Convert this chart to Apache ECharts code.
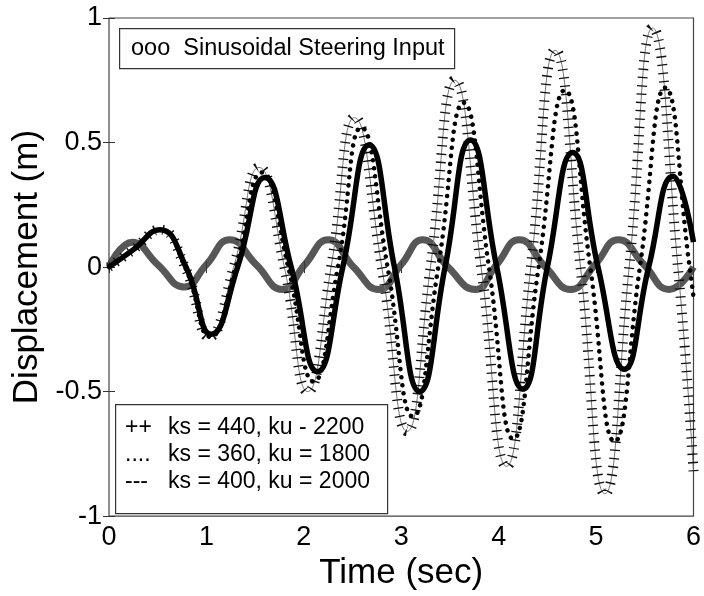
<!DOCTYPE html>
<html><head><meta charset="utf-8">
<script src="https://cdn.jsdelivr.net/npm/echarts@6/dist/echarts.min.js"></script>
<style>html,body{margin:0;padding:0;background:#fff}#c{width:704px;height:596px}</style>
</head><body><div id="c"></div>
<script>
// ---- data ----
const xTicks = [0, 1, 2, 3, 4, 5, 6];
const yTicks = [-1, -0.5, 0, 0.5, 1];

// Sinusoidal steering input ("ooo")
const inputT = [0, 0.24, 0.5, 0.77, 1.0, 1.24, 1.51, 1.78, 2.01, 2.25, 2.51, 2.77, 3.0, 3.22, 3.48, 3.76, 3.98, 4.21, 4.48, 4.74, 4.99, 5.23, 5.49, 5.75, 6.0];
const inputY = [0, 0.10, 0.01, -0.08, 0.01, 0.11, 0.01, -0.09, 0.01, 0.11, 0.0, -0.09, 0.01, 0.11, 0.0, -0.09, 0.01, 0.11, 0.0, -0.09, 0.01, 0.11, 0.01, -0.09, 0.0];

// ++ ks = 440, ku = 2200
const plusT = [0, 0.25, 0.52, 0.78, 1.03, 1.28, 1.54, 1.8, 2.04, 2.28, 2.52, 2.8, 3.06, 3.3, 3.55, 3.82, 4.08, 4.33, 4.58, 4.84, 5.09, 5.34, 5.58, 5.84, 6.0];
const plusY = [0, 0.07, 0.15, 0.0, -0.28, 0.0, 0.40, 0.0, -0.50, 0.0, 0.60, 0.0, -0.66, 0.0, 0.75, 0.0, -0.80, 0.0, 0.87, 0.0, -0.91, 0.0, 0.96, 0.0, -0.82];

// .... ks = 360, ku = 1800
const dotT = [0, 0.25, 0.52, 0.78, 1.04, 1.3, 1.57, 1.84, 2.1, 2.35, 2.59, 2.86, 3.12, 3.38, 3.64, 3.9, 4.15, 4.41, 4.68, 4.94, 5.19, 5.45, 5.71, 5.96, 6.0];
const dotY = [0, 0.07, 0.15, 0.0, -0.28, 0.0, 0.38, 0.0, -0.46, 0.0, 0.56, 0.0, -0.60, 0.0, 0.66, 0.0, -0.69, 0.0, 0.71, 0.0, -0.70, 0.0, 0.72, 0.0, -0.12];

// --- ks = 400, ku = 2000
const solidT = [0, 0.25, 0.52, 0.79, 1.05, 1.32, 1.6, 1.87, 2.14, 2.4, 2.67, 2.93, 3.19, 3.45, 3.71, 3.98, 4.25, 4.5, 4.76, 5.02, 5.29, 5.54, 5.79, 6.0];
const solidY = [0, 0.07, 0.15, 0.0, -0.27, 0.0, 0.36, 0.0, -0.42, 0.0, 0.49, 0.0, -0.50, 0.0, 0.51, 0.0, -0.49, 0.0, 0.46, 0.0, -0.41, 0.0, 0.365, 0.1];

const legendTop = 'ooo  Sinusoidal Steering Input';
const legendMarks = ['++', '....', '---'];
const legendTexts = ['ks = 440, ku - 2200', 'ks = 360, ku = 1800', 'ks = 400, ku = 2000'];

// ---- chart ----
const FONT = '"Liberation Sans", Arial, Helvetica, sans-serif';
const pairs = (T, Y) => T.map((t, i) => [t, Y[i]]);
const chart = echarts.init(document.getElementById('c'), null, {renderer: 'canvas'});

const frameAxis = {
  axisLine: {show: false},
  splitLine: {show: false},
  axisTick: {show: true, inside: true, length: 6, lineStyle: {color: '#333', width: 1}}
};

const legendGraphics = [
  {type: 'rect', left: 119, top: 28, shape: {width: 335, height: 40}, style: {fill: '#fff', stroke: '#333', lineWidth: 1.2}, z: 100},
  {type: 'text', left: 131, top: 37, style: {text: legendTop, font: '23.5px ' + FONT, fill: '#000'}, z: 101},
  {type: 'rect', left: 115, top: 404, shape: {width: 272, height: 109}, style: {fill: '#fff', stroke: '#333', lineWidth: 1.2}, z: 100}
];
legendMarks.forEach((m, i) => {
  legendGraphics.push({type: 'text', left: 125, top: 416 + i * 27, style: {text: m, font: '23px ' + FONT, fill: '#000'}, z: 101});
  legendGraphics.push({type: 'text', left: 168, top: 416 + i * 27, style: {text: legendTexts[i], font: '23px ' + FONT, fill: '#000'}, z: 101});
});

chart.setOption({
  backgroundColor: '#fff',
  animation: false,
  grid: {left: 109, right: 8, top: 18, bottom: 75, show: true, borderColor: '#444', borderWidth: 1.2, backgroundColor: 'transparent'},
  xAxis: [
    Object.assign({type: 'value', min: xTicks[0], max: xTicks[xTicks.length - 1], interval: 1,
      name: 'Time (sec)', nameLocation: 'middle', nameGap: 38,
      nameTextStyle: {fontFamily: FONT, fontSize: 35, color: '#000'},
      axisLabel: {fontFamily: FONT, fontSize: 27, color: '#000', margin: 8}}, frameAxis),
    Object.assign({type: 'value', position: 'top', min: xTicks[0], max: xTicks[xTicks.length - 1], interval: 1,
      axisLabel: {show: false}}, frameAxis)
  ],
  yAxis: [
    Object.assign({type: 'value', min: yTicks[0], max: yTicks[yTicks.length - 1], interval: 0.5,
      name: 'Displacement (m)', nameLocation: 'middle', nameGap: 54,
      nameTextStyle: {fontFamily: FONT, fontSize: 35, color: '#000'},
      axisLabel: {fontFamily: FONT, fontSize: 27, color: '#000', margin: 7}}, frameAxis),
    Object.assign({type: 'value', position: 'right', min: yTicks[0], max: yTicks[yTicks.length - 1], interval: 0.5,
      axisLabel: {show: false}}, frameAxis)
  ],
  series: [
    {name: 'input', type: 'line', smooth: 0.5, showSymbol: false, data: pairs(inputT, inputY),
      lineStyle: {color: '#3a3a3a', width: 7, opacity: 0.85}, z: 2},
    {name: 'plus-line', type: 'line', smooth: 0.5, showSymbol: false, data: pairs(plusT, plusY),
      lineStyle: {color: '#777', width: 1}, z: 3},
    {name: 'plus-marks', type: 'line', smooth: 0.5, showSymbol: false, data: pairs(plusT, plusY),
      lineStyle: {color: '#111', width: 10, type: [1.3, 7], cap: 'butt'}, z: 3},
    {name: 'dots', type: 'line', smooth: 0.5, showSymbol: false, data: pairs(dotT, dotY),
      lineStyle: {color: '#000', width: 4.5, type: [0.1, 8], cap: 'round'}, z: 4},
    {name: 'solid', type: 'line', smooth: 0.5, showSymbol: false, data: pairs(solidT, solidY),
      lineStyle: {color: '#000', width: 5.5}, z: 5}
  ],
  graphic: legendGraphics
});
</script></body></html>
